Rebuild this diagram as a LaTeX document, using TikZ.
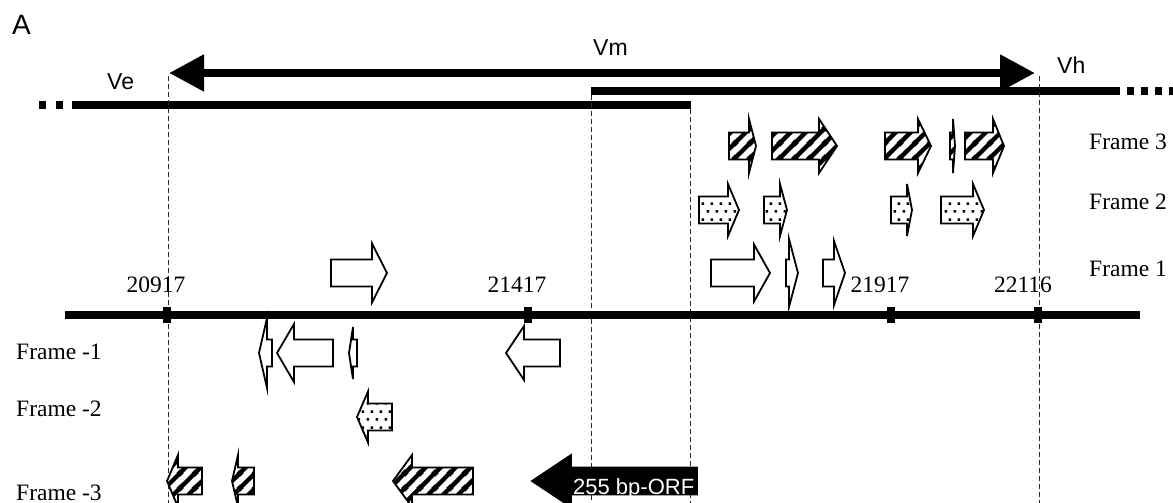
\documentclass[tikz,border=0pt]{standalone}
\usepackage{fontspec}
\setmainfont{Liberation Serif}
\setsansfont{Liberation Sans}
\usepackage{tikz}
\usetikzlibrary{arrows.meta, patterns.meta}

\tikzdeclarepattern{
    name=orfhatch,
    type=uncolored,
    bounding box={(0pt,0pt) and (15pt,15pt)},
    tile size={(15pt,15pt)},
    code={
        \draw[line width=4.5pt] (-3pt,-3pt) -- (18pt,18pt);
        \draw[line width=4.5pt] (-3pt,12pt) -- (3pt,18pt);
        \draw[line width=4.5pt] (12pt,-3pt) -- (18pt,3pt);
    }
}
\tikzdeclarepattern{
    name=orfdots,
    type=uncolored,
    bounding box={(0pt,0pt) and (8.5pt,16pt)},
    tile size={(8.5pt,16pt)},
    code={
        \fill (0.6pt,2.6pt) rectangle (3.2pt,5.2pt);
        \fill (4.85pt,10.6pt) rectangle (7.45pt,13.2pt);
    }
}

\tikzset{
    orf plain/.style={draw, line width=1.8pt, fill=white},
    orf hatch/.style={draw, line width=1.8pt, preaction={fill=white},
        pattern=orfhatch},
    orf dots/.style={draw, line width=1.8pt, preaction={fill=white},
        pattern=orfdots},
    orf solid/.style={draw, line width=1.8pt, fill=black},
    orf text/.style={font=\sffamily\fontsize{22}{25}\selectfont,
        text=white, inner sep=0pt, anchor=base west},
    vm arrow/.style={line width=8pt,
        {Triangle[length=35pt,width=35pt]}-{Triangle[length=35pt,width=35pt]}},
    genome line/.style={line width=8pt},
    genome dots/.style={line width=8pt, dash pattern=on 7pt off 10pt},
    axis line/.style={line width=8.5pt},
    axis tick/.style={fill, inner sep=0pt, minimum width=8pt,
        minimum height=16pt},
    guide line/.style={line width=0.9pt, black!85,
        dash pattern=on 5pt off 3pt},
    panel letter/.style={font=\sffamily\fontsize{28}{32}\selectfont,
        inner sep=0pt, anchor=base west},
    virus label/.style={font=\sffamily\fontsize{23}{26}\selectfont,
        inner sep=0pt, anchor=base west},
    frame label/.style={font=\fontsize{23.5}{27}\selectfont,
        inner sep=0pt, anchor=base west},
    pos label/.style={font=\fontsize{23.5}{27}\selectfont,
        inner sep=0pt, anchor=base},
}

% forward ORF: [style]{row y}{left}{head base}{tip}{head half height}
\newcommand{\orffwd}[6][orf plain]{%
    \draw[#1] (#3,{#2-13.5}) -- (#4,{#2-13.5}) -- (#4,{#2-#6}) -- (#5,#2)
        -- (#4,{#2+#6}) -- (#4,{#2+13.5}) -- (#3,{#2+13.5}) -- cycle;}
% reverse ORF: [style]{row y}{tip}{head base}{right}{head half height}
\newcommand{\orfrev}[6][orf plain]{%
    \draw[#1] (#5,{#2-13.5}) -- (#4,{#2-13.5}) -- (#4,{#2-#6}) -- (#3,#2)
        -- (#4,{#2+#6}) -- (#4,{#2+13.5}) -- (#5,{#2+13.5}) -- cycle;}

\begin{document}
\begin{tikzpicture}[x=1pt, y=-1pt]
    \useasboundingbox (0,0) rectangle (1173,503);
    \clip (0,0) rectangle (1173,503);

    \node[panel letter] (panel) at (12,35) {A};

    % Ve / Vm / Vh segments
    \coordinate (vmleft) at (169,73);
    \coordinate (vmright) at (1035,73);
    \draw[vm arrow] (vmleft) -- (vmright);
    \node[virus label] (ve) at (107,89) {Ve};
    \node[virus label] (vm) at (593,56) {Vm};
    \node[virus label] (vh) at (1057,74) {Vh};

    \coordinate (veleft) at (72,105);
    \coordinate (veright) at (691,105);
    \coordinate (vedots) at (39,105);
    \draw[genome line] (veleft) -- (veright);
    \draw[genome dots] (vedots) -- (veleft);
    \coordinate (vhleft) at (591,91);
    \coordinate (vhright) at (1120,91);
    \coordinate (vhdots) at (1176,91);
    \draw[genome line] (vhleft) -- (vhright);
    \draw[genome dots, dash pattern=on 7pt off 7pt] ([xshift=7pt]vhright) -- (vhdots);

    % guide lines
    \coordinate (g1top) at (168,76);    \coordinate (g1bot) at (168,503);
    \coordinate (g2top) at (591,95);    \coordinate (g2bot) at (591,503);
    \coordinate (g3top) at (690,109);   \coordinate (g3bot) at (690,503);
    \coordinate (g4top) at (1039,76);   \coordinate (g4bot) at (1039,503);
    \draw[guide line] (g1top) -- (g1bot);
    \draw[guide line] (g2top) -- (g2bot);
    \draw[guide line] (g3top) -- (g3bot);
    \draw[guide line] (g4top) -- (g4bot);

    % genome axis
    \coordinate (axisleft) at (65,315);
    \coordinate (axisright) at (1140,315);
    \draw[axis line] (axisleft) -- (axisright);
    \node[axis tick] (t20917) at (167,315) {};
    \node[axis tick] (t21417) at (528,315) {};
    \node[axis tick] (t21917) at (891,315) {};
    \node[axis tick] (t22116) at (1038,315) {};
    \node[pos label] (p20917) at (156,292) {20917};
    \node[pos label] (p21417) at (517,292) {21417};
    \node[pos label] (p21917) at (880,292) {21917};
    \node[pos label] (p22116) at (1023,292) {22116};

    % reading frames
    \node[frame label] (f3) at (1089,149) {Frame 3};
    \node[frame label] (f2) at (1089,209) {Frame 2};
    \node[frame label] (f1) at (1089,276) {Frame 1};
    \node[frame label] (fm1) at (16,359) {Frame -1};
    \node[frame label] (fm2) at (16,416) {Frame -2};
    \node[frame label] (fm3) at (16,500) {Frame -3};

    % frame 3
    \orffwd[orf hatch]{146}{729}{749}{756}{27}
    \orffwd[orf hatch]{146}{772}{819}{837}{27}
    \orffwd[orf hatch]{146}{885}{918}{931}{27}
    \orffwd[orf hatch]{146}{950}{953}{955}{27}
    \orffwd[orf hatch]{146}{965}{993}{1004}{27}
    % frame 2
    \orffwd[orf dots]{210}{699}{728}{739}{26}
    \orffwd[orf dots]{210}{764}{780}{787}{26}
    \orffwd[orf dots]{210}{891}{907}{912}{26}
    \orffwd[orf dots]{210}{941}{973}{984}{26}
    % frame 1
    \orffwd{273}{331}{372}{387}{29.5}
    \orffwd{273}{711}{754}{770}{28.5}
    \orffwd{273}{786}{789}{798}{34}
    \orffwd{273}{823}{834}{845}{32}
    % frame -1
    \orfrev{353}{259}{267}{272}{35}
    \orfrev{353}{277}{294}{333}{29}
    \orfrev{353}{349}{353}{357}{26}
    \orfrev{353}{506}{524}{560}{27}
    % frame -2
    \orfrev[orf dots]{417}{357}{368}{392}{25.5}
    % frame -3
    \orfrev[orf hatch]{481}{167}{178}{202}{26}
    \orfrev[orf hatch]{481}{232}{238}{254}{26}
    \orfrev[orf hatch]{481}{393}{412}{473}{26}
    \orfrev[orf solid]{481}{532}{571}{697}{26}
    \node[orf text] (orf255) at (573,494) {255 bp-ORF};
\end{tikzpicture}
\end{document}
